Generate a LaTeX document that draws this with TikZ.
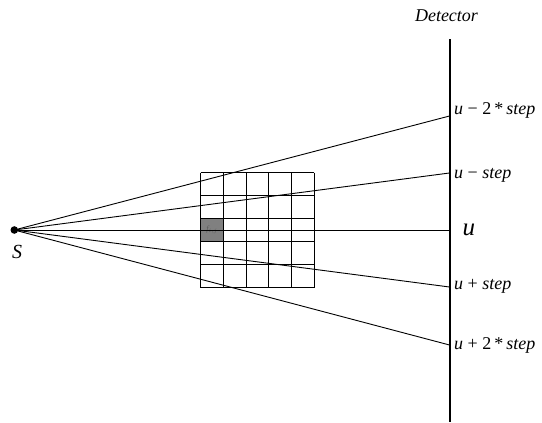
\documentclass[tikz,border=0pt]{standalone}
\usepackage{fontspec}
\setmainfont{Liberation Serif}
\begin{document}
\begin{tikzpicture}[x=1pt,y=-1pt,
  ray/.style={line width=0.9pt},
  gridline/.style={line width=0.9pt},
  detlabel/.style={anchor=mid west,inner sep=0pt,font=\fontsize{18}{20}\selectfont},
  cellfill/.style={fill=black!50,draw=black,line width=1pt}]
\useasboundingbox (0,0) rectangle (542,423);
% grid
\fill[cellfill] (200.7,218.5) rectangle (223.4,241.3);
\node[inner sep=0pt,font=\fontsize{8}{9}\selectfont\itshape,text=black!65] (fij) at (212,230) {f$_{i,j}$};
\foreach \k in {0,...,5} {
  \draw[gridline] ({200.7+22.72*\k},172.5) -- ({200.7+22.72*\k},287.7);
  \draw[gridline] (200.7,{172.5+23.04*\k}) -- (314.3,{172.5+23.04*\k});
}
% source
\coordinate (S) at (14.3,230);
\fill (S) circle (3.8);
\node[font=\fontsize{20}{22}\selectfont\itshape] (Slabel) at (17.2,252) {S};
% detector
\coordinate (dtop) at (449.5,39);
\coordinate (dbot) at (449.5,422);
\draw[line width=2pt] (dtop) -- (dbot);
\node[font=\fontsize{18}{20}\selectfont\itshape] (detlab) at (446.5,16) {Detector};
\coordinate (dm2) at (449.5,116);
\coordinate (dm1) at (449.5,173);
\coordinate (d0) at (449.5,230);
\coordinate (dp1) at (449.5,287);
\coordinate (dp2) at (449.5,345);
\foreach \p in {dm2,dm1,d0,dp1,dp2} \draw[ray] (S) -- (\p);
% labels
\node[detlabel] (lm2) at (454,112.5) {\textit{u} − 2\,*\,\textit{step}};
\node[detlabel] (lm1) at (454,176) {\textit{u} − \textit{step}};
\node[anchor=mid west,inner sep=0pt,font=\fontsize{25}{27}\selectfont\itshape] (l0) at (462.5,233) {u};
\node[detlabel] (lp1) at (454,287.5) {\textit{u} + \textit{step}};
\node[detlabel] (lp2) at (454,347.5) {\textit{u} + 2\,*\,\textit{step}};
\end{tikzpicture}
\end{document}
